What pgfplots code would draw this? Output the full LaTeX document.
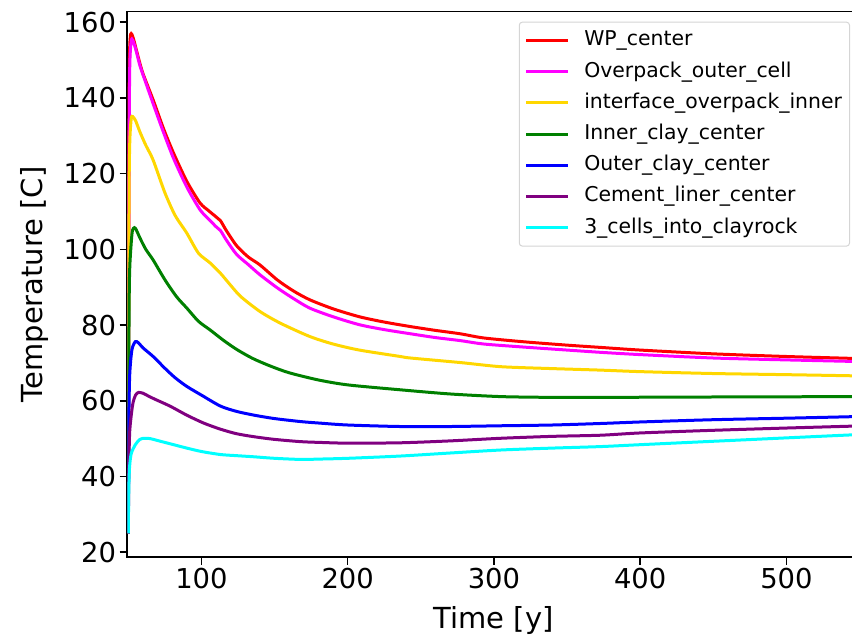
\documentclass[border=0pt]{standalone}
\usepackage{fontspec}
\setmainfont{DejaVu Sans}
\usepackage{pgfplots}
\pgfplotsset{compat=1.18}
\definecolor{mplred}{HTML}{FF0000}
\definecolor{mplmagenta}{HTML}{FF00FF}
\definecolor{mplgold}{HTML}{FFD700}
\definecolor{mplgreen}{HTML}{008000}
\definecolor{mplblue}{HTML}{0000FF}
\definecolor{mplpurple}{HTML}{800080}
\definecolor{mplcyan}{HTML}{00FFFF}
\definecolor{legframe}{HTML}{D5D5D5}
\begin{document}
\begin{tikzpicture}
\begin{axis}[
  name=ax,
  scale only axis,
  width=733pt, height=545.6pt,
  xmin=49.3, xmax=550.3,
  ymin=18.7, ymax=162.8,
  xtick={100,200,300,400,500},
  ytick={20,40,60,80,100,120,140,160},
  tick pos=left,
  tick align=outside,
  major tick length=7.7pt,
  every tick/.style={line width=1.6pt, black},
  axis line style={line width=1.6pt, black},
  /pgf/number format/assume math mode=true,
  tick label style={font=\fontsize{27.4}{30}\selectfont},
  every axis x label/.style={at={([yshift=-71pt]rel axis cs:0.5,0)}, anchor=base},
  every axis y label/.style={at={([xshift=-84.6pt]rel axis cs:0,0.5)}, rotate=90, anchor=base},
  label style={font=\fontsize{29}{32}\selectfont},
  xlabel={Time [y]},
  ylabel={Temperature [C]},
  legend cell align=left,
  legend image code/.code={\draw[#1] (0pt,0pt) -- (42pt,0pt);},
  legend style={at={(rel axis cs:1,1)}, anchor=north east, xshift=-10pt, yshift=-10pt,
    draw=legframe, line width=1pt, rounded corners=3pt,
    font=\fontsize{20.4}{24}\selectfont,
    inner xsep=5.5pt, inner ysep=7pt, row sep=8.4pt, column sep=12.5pt,
    nodes={inner sep=2pt, text height=14.8pt, text depth=4pt}},
  every axis plot/.append style={line width=3pt, smooth, tension=0.45},
]
\addplot[mplred] coordinates {(50,25) (50.4,120) (50.8,150) (51.5,156.5) (52.5,156.8) (54,155) (57,150.5) (60,146.5) (67,139.5) (74,132) (81,125.4) (90,118) (99,112.3) (105,110.2) (110,108.6) (113,107.6) (117,105) (124,101) (132,98) (140,95.9) (152,91.9) (163,89) (174,86.7) (190,84.3) (208,82.2) (225,80.8) (243,79.6) (260,78.6) (277,77.7) (293,76.6) (320,75.6) (350,74.7) (373,74.1) (400,73.4) (450,72.4) (500,71.7) (545,71.2) (552,71.1)};
\addlegendentry{WP\_center}
\addplot[mplmagenta] coordinates {(50,25) (50.5,120) (51,148) (52,155) (53,155.3) (55,153) (58,148.5) (62,144) (67,138.5) (74,131) (81,124) (90,116.5) (99,110.5) (105,108) (110,106) (113,105) (117,102.5) (124,98.7) (132,96) (140,93.3) (152,89.8) (163,87) (174,84.5) (190,82.2) (208,80.1) (225,78.8) (243,77.7) (260,76.7) (277,75.9) (293,75.0) (320,74.2) (350,73.4) (373,72.8) (400,72.2) (450,71.3) (500,70.8) (545,70.4) (552,70.3)};
\addlegendentry{Overpack\_outer\_cell}
\addplot[mplgold] coordinates {(50,25) (50.5,110) (51,128) (52,134.5) (53,135.1) (55,134) (58,131) (62,127.5) (67,123.6) (75,115) (82,109) (90,104.3) (98,99) (106,96.4) (113,93.7) (120,90.5) (127,87.5) (140,83.6) (154,80.5) (174,77.0) (190,75.0) (208,73.4) (236,71.7) (243,71.3) (277,70.1) (305,69.0) (340,68.5) (373,68.1) (400,67.7) (450,67.2) (500,66.9) (545,66.6) (552,66.5)};
\addlegendentry{interface\_overpack\_inner}
\addplot[mplgreen] coordinates {(50,25) (50.5,80) (51,95) (52.5,104) (53.6,105.6) (55,105.5) (58,103) (62,100) (67,97.2) (75,92) (83,87.5) (90,84.5) (98,81) (106,78.7) (115,76) (124,73.6) (135,71.2) (147,69.2) (160,67.4) (180,65.5) (200,64.2) (236,62.9) (270,61.8) (305,61.1) (340,60.9) (373,60.9) (450,61.0) (545,61.1) (552,61.1)};
\addlegendentry{Inner\_clay\_center}
\addplot[mplblue] coordinates {(50,25) (50.4,55) (51,67) (52.5,73.5) (54.8,75.6) (57,75.3) (60,74) (67,71.7) (75,68.6) (82,66.1) (90,63.8) (100,61.5) (113,58.6) (124,57.2) (136,56.2) (150,55.3) (168,54.5) (181,54.1) (200,53.6) (236,53.2) (270,53.2) (305,53.4) (340,53.6) (373,54.0) (400,54.4) (450,55.0) (500,55.4) (545,55.8) (552,55.9)};
\addlegendentry{Outer\_clay\_center}
\addplot[mplpurple] coordinates {(50,25) (50.4,42) (51,52) (53,59) (55,61.5) (57,62.2) (60,62.0) (65,61.0) (70,60.1) (79,58.5) (90,56.2) (101.6,54.1) (113,52.5) (124,51.3) (136,50.5) (150,49.8) (168,49.2) (181,49.0) (200,48.8) (236,48.9) (270,49.4) (305,50.1) (340,50.6) (373,50.9) (400,51.5) (450,52.2) (500,52.8) (545,53.3) (552,53.4)};
\addlegendentry{Cement\_liner\_center}
\addplot[mplcyan] coordinates {(50,25) (50.3,35) (50.8,42) (52,46) (55,48.5) (58,49.8) (61,50.1) (65,50.0) (72,49.3) (80,48.5) (90,47.5) (100,46.6) (113,45.8) (124,45.5) (136,45.2) (150,44.8) (168,44.5) (181,44.6) (200,44.8) (236,45.4) (270,46.2) (305,47.0) (340,47.5) (373,47.9) (400,48.4) (450,49.3) (500,50.2) (545,51.0) (552,51.1)};
\addlegendentry{3\_cells\_into\_clayrock}
\end{axis}
\pgfresetboundingbox
\path[use as bounding box] ([xshift=-127.3pt,yshift=-78.7pt]ax.south west) rectangle ([xshift=-8pt,yshift=11.7pt]ax.north east);
\end{tikzpicture}
\end{document}
